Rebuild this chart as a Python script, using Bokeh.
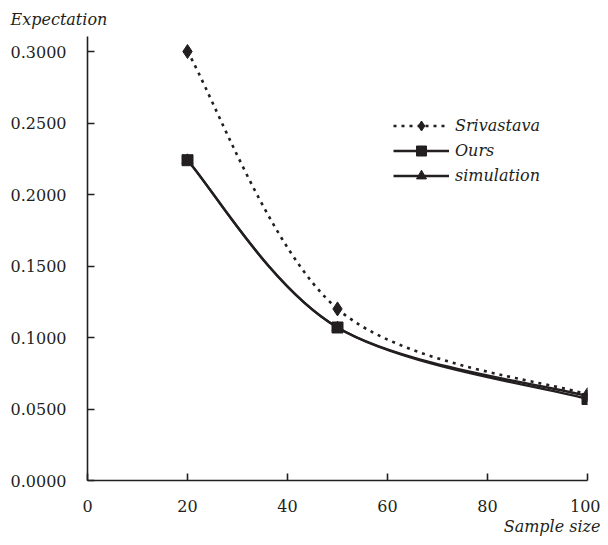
from bokeh.plotting import figure
from bokeh.models import (Range1d, FixedTicker, NumeralTickFormatter, Legend, LegendItem, Title)
from bokeh.embed import file_html
from bokeh.resources import INLINE

# ---- data ----
sample_size = [20, 50, 100]
srivastava = [0.300, 0.120, 0.060]
ours = [0.224, 0.107, 0.057]
simulation = [0.224, 0.107, 0.059]
x_ticks = [0, 20, 40, 60, 80, 100]
y_ticks = [0.0, 0.05, 0.10, 0.15, 0.20, 0.25, 0.30]

INK = "#231f20"
FONT = "DejaVu Serif"
FS = "16px"


def smooth_segments(xs, ys):
    """Excel-style smoothed line: cubic bezier control points per segment."""
    n = len(xs)
    out = dict(x0=[], y0=[], x1=[], y1=[], cx0=[], cy0=[], cx1=[], cy1=[])
    for i in range(n - 1):
        im1 = max(i - 1, 0)
        ip2 = min(i + 2, n - 1)
        out["x0"].append(xs[i]); out["y0"].append(ys[i])
        out["x1"].append(xs[i + 1]); out["y1"].append(ys[i + 1])
        out["cx0"].append(xs[i] + (xs[i + 1] - xs[im1]) / 6.0)
        out["cy0"].append(ys[i] + (ys[i + 1] - ys[im1]) / 6.0)
        out["cx1"].append(xs[i + 1] - (xs[ip2] - xs[i]) / 6.0)
        out["cy1"].append(ys[i + 1] - (ys[ip2] - ys[i]) / 6.0)
    return out


p = figure(width=600, height=537, output_backend="svg", toolbar_location=None,
           x_range=Range1d(0, 100), y_range=Range1d(0, 0.3105),
           min_border_left=87, min_border_right=13, min_border_top=0, min_border_bottom=57)
p.outline_line_color = None
p.grid.visible = False
p.background_fill_color = "white"

p.title.text = "Expectation"
p.title.text_font = FONT
p.title.text_font_style = "italic"
p.title.text_font_size = FS
p.title.text_color = INK
p.title.align = "left"
p.title.offset = -77
p.title.standoff = 15

p.add_layout(Title(text="Sample size", align="right", text_font=FONT, text_font_style="italic",
                   text_font_size=FS, text_color=INK, offset=-13, standoff=0), "below")

for ax in (p.xaxis[0], p.yaxis[0]):
    ax.axis_line_color = INK
    ax.axis_line_width = 1.6
    ax.major_tick_line_color = INK
    ax.major_tick_line_width = 1.6
    ax.major_tick_in = 7
    ax.major_tick_out = 0
    ax.minor_tick_line_color = None
    ax.major_label_text_font = FONT
    ax.major_label_text_font_size = FS
    ax.major_label_text_color = INK

p.xaxis[0].ticker = FixedTicker(ticks=x_ticks)
p.xaxis[0].major_label_standoff = 19
p.yaxis[0].ticker = FixedTicker(ticks=y_ticks)
p.yaxis[0].formatter = NumeralTickFormatter(format="0.0000")
p.yaxis[0].major_label_standoff = 21

# curves
s_seg = smooth_segments(sample_size, srivastava)
o_seg = smooth_segments(sample_size, ours)
m_seg = smooth_segments(sample_size, simulation)

r_sim_line = p.bezier(source=m_seg, x0="x0", y0="y0", x1="x1", y1="y1", cx0="cx0", cy0="cy0",
                      cx1="cx1", cy1="cy1", line_color=INK, line_width=2.4)
r_our_line = p.bezier(source=o_seg, x0="x0", y0="y0", x1="x1", y1="y1", cx0="cx0", cy0="cy0",
                      cx1="cx1", cy1="cy1", line_color=INK, line_width=2.4)
r_sri_line = p.bezier(source=s_seg, x0="x0", y0="y0", x1="x1", y1="y1", cx0="cx0", cy0="cy0",
                      cx1="cx1", cy1="cy1", line_color=INK, line_width=2.6, line_dash="3 5")

r_sim_pts = p.scatter(sample_size, simulation, marker="triangle", size=11, color=INK)
r_our_pts = p.scatter(sample_size, ours, marker="square", size=11, color=INK)
r_sri_pts = p.scatter(sample_size, srivastava, marker="diamond", size=14, color=INK)

legend = Legend(items=[
    LegendItem(label="Srivastava", renderers=[r_sri_line, r_sri_pts]),
    LegendItem(label="Ours", renderers=[r_our_line, r_our_pts]),
    LegendItem(label="simulation", renderers=[r_sim_line, r_sim_pts]),
], location=(306, 292), orientation="vertical",
    glyph_width=56, glyph_height=25, spacing=0, padding=0, margin=0, label_standoff=6,
    label_text_font=FONT, label_text_font_style="italic", label_text_font_size=FS,
    label_text_color=INK, border_line_color=None, background_fill_alpha=0)
p.add_layout(legend, "center")

open("out.html", "w").write(file_html(p, INLINE))
